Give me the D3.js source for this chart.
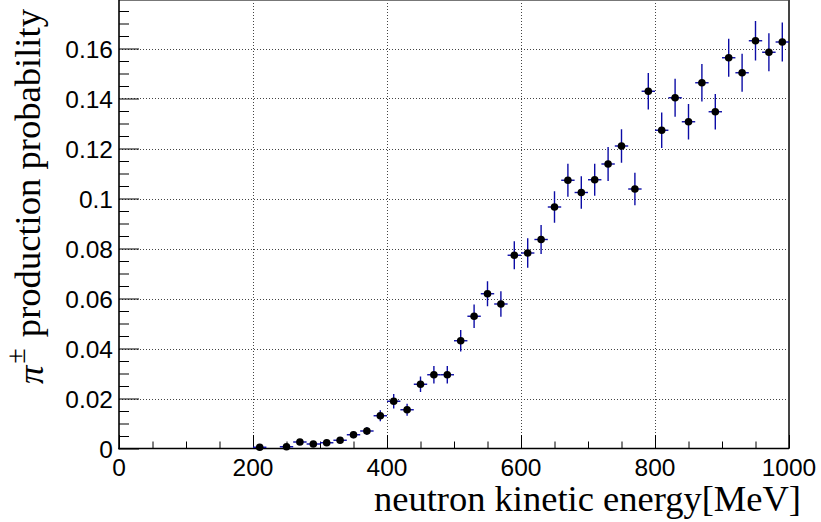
<!DOCTYPE html>
<html>
<head>
<meta charset="utf-8">
<script src="https://cdn.jsdelivr.net/npm/d3@7/dist/d3.min.js"></script>
<style>
  html, body { margin: 0; padding: 0; background: #fff; }
  svg { display: block; }
</style>
</head>
<body>
<svg id="chart" width="821" height="522"></svg>
<script>
// ---- data ----
const energy = [210,250,270,290,310,330,350,370,390,410,430,450,470,490,510,530,550,570,590,610,630,650,670,690,710,730,750,770,790,810,830,850,870,890,910,930,950,970,990];
const prob = [0.0005,0.0007,0.0026,0.0018,0.0023,0.0033,0.0055,0.0070,0.0131,0.0189,0.0155,0.0257,0.0295,0.0295,0.0431,0.0529,0.0619,0.0578,0.0773,0.0782,0.0836,0.0966,0.1073,0.1024,0.1075,0.1138,0.1210,0.1038,0.1429,0.1273,0.1403,0.1307,0.1463,0.1347,0.1563,0.1503,0.1631,0.1585,0.1626];
const probErr = [0.0004,0.0005,0.0009,0.0008,0.0009,0.0011,0.0014,0.0016,0.0022,0.0029,0.0024,0.0031,0.0035,0.0035,0.0043,0.0047,0.0050,0.0051,0.0056,0.0059,0.0058,0.0063,0.0066,0.0065,0.0064,0.0068,0.0067,0.0065,0.0073,0.0071,0.0076,0.0071,0.0075,0.0071,0.0076,0.0076,0.0079,0.0076,0.0078];
const binHalfWidth = [10];
const xTicks = [0,200,400,600,800,1000];
const xTickLabels = ["0","200","400","600","800","1000"];
const yTicks = [0,0.02,0.04,0.06,0.08,0.1,0.12,0.14,0.16];
const yTickLabels = ["0","0.02","0.04","0.06","0.08","0.1","0.12","0.14","0.16"];
const xDomain = [0, 1000];
const yDomain = [0, 0.1794];
const xTitle = "neutron kinetic energy[MeV]";
const yTitleSymbol = "π";
const yTitleSup = "±";
const yTitleRest = " production probability";

// ---- layout ----
const L = 119, R = 789, T = 0, B = 448.5;
const svg = d3.select("#chart");
const x = d3.scaleLinear().domain(xDomain).range([L, R]);
const y = d3.scaleLinear().domain(yDomain).range([B, T]);

const gridColor = "#444";
// grid
const grid = svg.append("g");
grid.selectAll("line.gx").data(xTicks.filter(v => v > xDomain[0] && v < xDomain[1]))
  .enter().append("line")
  .attr("x1", d => Math.round(x(d)) + 0.5).attr("x2", d => Math.round(x(d)) + 0.5)
  .attr("y1", T).attr("y2", B)
  .attr("stroke", gridColor).attr("stroke-width", 1).attr("stroke-dasharray", "1,2");
grid.selectAll("line.gy").data(yTicks.filter(v => v > 0))
  .enter().append("line")
  .attr("x1", L).attr("x2", R)
  .attr("y1", d => Math.round(y(d)) + 0.5).attr("y2", d => Math.round(y(d)) + 0.5)
  .attr("stroke", gridColor).attr("stroke-width", 1).attr("stroke-dasharray", "1,2");

// frame top/right
svg.append("line").attr("x1", L).attr("x2", R).attr("y1", 0.5).attr("y2", 0.5)
  .attr("stroke", "#777").attr("stroke-width", 1);
svg.append("line").attr("x1", R).attr("x2", R).attr("y1", T).attr("y2", B)
  .attr("stroke", "#444").attr("stroke-width", 2);

// axes via d3
const fontTick = "'Liberation Sans', Arial, Helvetica, sans-serif";
const xAxis = d3.axisTop(x).tickValues(xTicks).tickSize(13.5).tickFormat((d, i) => "");
const gx = svg.append("g").attr("transform", `translate(0,${B})`).call(xAxis);
gx.select(".domain").remove();
gx.selectAll(".tick line").attr("stroke", "#000").attr("stroke-width", 1);
const xMinor = d3.range(0, 1001, 50).filter(v => xTicks.indexOf(v) < 0);
const gxm = svg.append("g").attr("transform", `translate(0,${B})`)
  .call(d3.axisTop(x).tickValues(xMinor).tickSize(7).tickFormat(""));
gxm.select(".domain").remove();
gxm.selectAll(".tick line").attr("stroke", "#000");

const yAxis = d3.axisRight(y).tickValues(yTicks).tickSize(20).tickFormat("");
const gy = svg.append("g").attr("transform", `translate(${L},0)`).call(yAxis);
gy.select(".domain").remove();
gy.selectAll(".tick line").attr("stroke", "#000");
const yMinor = d3.range(0, 36).map(i => i * 0.005).filter(v => v <= yDomain[1] && yTicks.every(t => Math.abs(t - v) > 1e-9));
const gym = svg.append("g").attr("transform", `translate(${L},0)`)
  .call(d3.axisRight(y).tickValues(yMinor).tickSize(10).tickFormat(""));
gym.select(".domain").remove();
gym.selectAll(".tick line").attr("stroke", "#000");

// axis lines
svg.append("line").attr("x1", L).attr("x2", L).attr("y1", T).attr("y2", B + 0.75)
  .attr("stroke", "#000").attr("stroke-width", 1.6);
svg.append("line").attr("x1", L - 0.75).attr("x2", R).attr("y1", B).attr("y2", B)
  .attr("stroke", "#000").attr("stroke-width", 1.6);

// tick labels
svg.append("g").selectAll("text").data(xTicks).enter().append("text")
  .attr("x", d => x(d)).attr("y", B + 27)
  .attr("text-anchor", "middle")
  .attr("font-family", fontTick).attr("font-size", 24.5).attr("fill", "#000")
  .text((d, i) => xTickLabels[i]);
svg.append("g").selectAll("text").data(yTicks).enter().append("text")
  .attr("x", L - 6).attr("y", d => y(d) + 9)
  .attr("text-anchor", "end")
  .attr("font-family", fontTick).attr("font-size", 24.5).attr("fill", "#000")
  .text((d, i) => yTickLabels[i]);

// axis titles
const fontTitle = "'Liberation Serif', 'Times New Roman', Times, serif";
svg.append("text").attr("x", 801).attr("y", 511)
  .attr("text-anchor", "end").attr("font-family", fontTitle).attr("font-size", 36.5)
  .attr("fill", "#000").text(xTitle);
const yt = svg.append("text")
  .attr("transform", "translate(40,384) rotate(-90)")
  .attr("text-anchor", "start").attr("font-family", fontTitle).attr("font-size", 36.6)
  .attr("fill", "#000");
yt.append("tspan").attr("font-style", "italic").attr("dy", 3).text(yTitleSymbol);
yt.append("tspan").attr("font-size", 28).attr("dx", 2).attr("dy", -18).text(yTitleSup);
yt.append("tspan").attr("dx", 2).attr("dy", 15).text(yTitleRest);

// data: error bars + markers
const pts = energy.map((e, i) => ({e, p: prob[i], s: probErr[i]}));
const errColor = "#0c0ca6";
const gData = svg.append("g");
gData.selectAll("line.h").data(pts).enter().append("line")
  .attr("x1", d => x(d.e - binHalfWidth[0])).attr("x2", d => x(d.e + binHalfWidth[0]))
  .attr("y1", d => y(d.p)).attr("y2", d => y(d.p))
  .attr("stroke", errColor).attr("stroke-width", 1.4);
gData.selectAll("line.v").data(pts).enter().append("line")
  .attr("x1", d => x(d.e)).attr("x2", d => x(d.e))
  .attr("y1", d => y(Math.max(0, d.p - d.s))).attr("y2", d => y(d.p + d.s))
  .attr("stroke", errColor).attr("stroke-width", 1.4);
gData.selectAll("circle").data(pts).enter().append("circle")
  .attr("cx", d => x(d.e)).attr("cy", d => y(d.p)).attr("r", 3.8)
  .attr("fill", "#000");
</script>
</body>
</html>
